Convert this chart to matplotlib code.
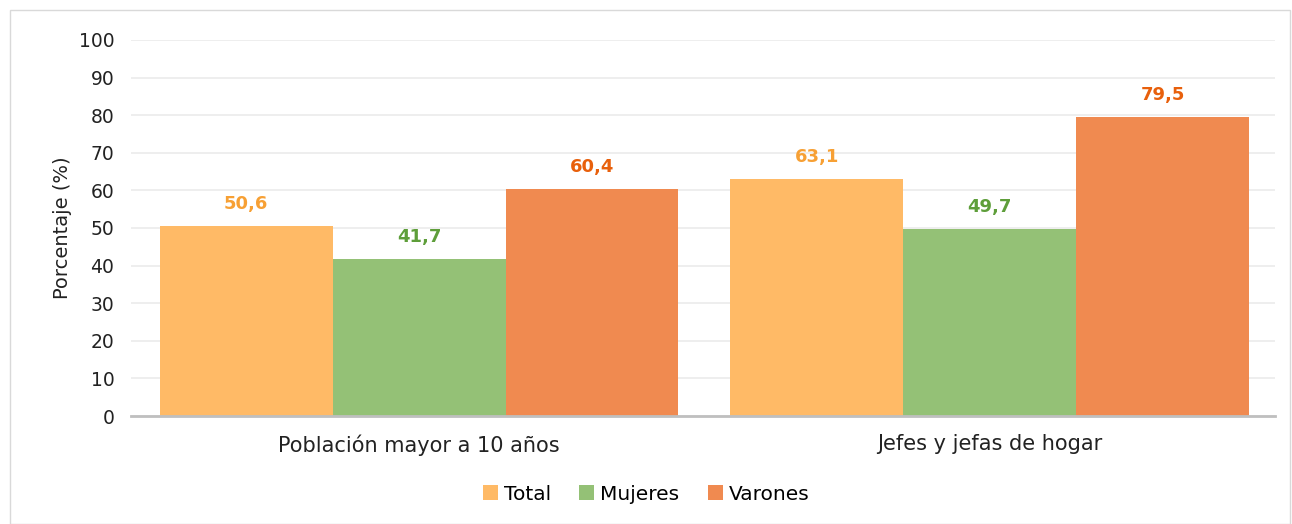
import matplotlib.pyplot as plt
from matplotlib.patches import Rectangle
import numpy as np

categories = ['Población mayor a 10 años', 'Jefes y jefas de hogar']
series_names = ['Total', 'Mujeres', 'Varones']
total = [50.6, 63.1]
mujeres = [41.7, 49.7]
varones = [60.4, 79.5]

bar_colors = ['#FFBA66', '#94C176', '#F08A50']
label_colors = ['#F7A034', '#5E9E3A', '#E8600C']

plt.rcParams['font.family'] = ['DejaVu Sans']

fig = plt.figure(figsize=(12.92, 5.24), dpi=100)
ax = fig.add_axes([0.1014, 0.2061, 0.8854, 0.7176])

x = np.arange(len(categories))
width = 0.303
values = [total, mujeres, varones]
for i, (name, vals) in enumerate(zip(series_names, values)):
    pos = x + (i - 1) * width
    ax.bar(pos, vals, width, color=bar_colors[i], label=name, zorder=2)
    for p, v in zip(pos, vals):
        ax.text(p, v + 3.5, f'{v:.1f}'.replace('.', ','), ha='center', va='bottom',
                color=label_colors[i], fontsize=13, fontweight='bold')

ax.set_xlim(-0.505, 1.5)
ax.set_ylim(0, 100)
ax.set_yticks(range(0, 101, 10))
ax.set_xticks(x)
ax.set_xticklabels(categories, fontsize=15, color='#222222')
ax.tick_params(axis='y', labelsize=13.5, colors='#222222', length=0, pad=12)
ax.tick_params(axis='x', length=0, pad=13)
ax.yaxis.grid(True, color='#EBEBEB', linewidth=1.2, zorder=0)
ax.set_axisbelow(True)
for s in ['top', 'right', 'left']:
    ax.spines[s].set_visible(False)
ax.spines['bottom'].set_color('#BFBFBF')
ax.spines['bottom'].set_linewidth(2)
ax.set_ylabel('Porcentaje (%)', fontsize=14, color='#222222', labelpad=5)

fig.legend(loc='center', bbox_to_anchor=(0.5, 0.057), ncol=3, frameon=False,
           fontsize=14.5, handlelength=0.75, handleheight=0.75, handletextpad=0.3,
           columnspacing=1.4)

fig.patches.append(Rectangle((10 / 1292, 0), 1 - 12 / 1292, 1 - 10 / 524,
                             transform=fig.transFigure, fill=False,
                             edgecolor='#D9D9D9', linewidth=1))

fig.savefig('out.png', dpi=100)
